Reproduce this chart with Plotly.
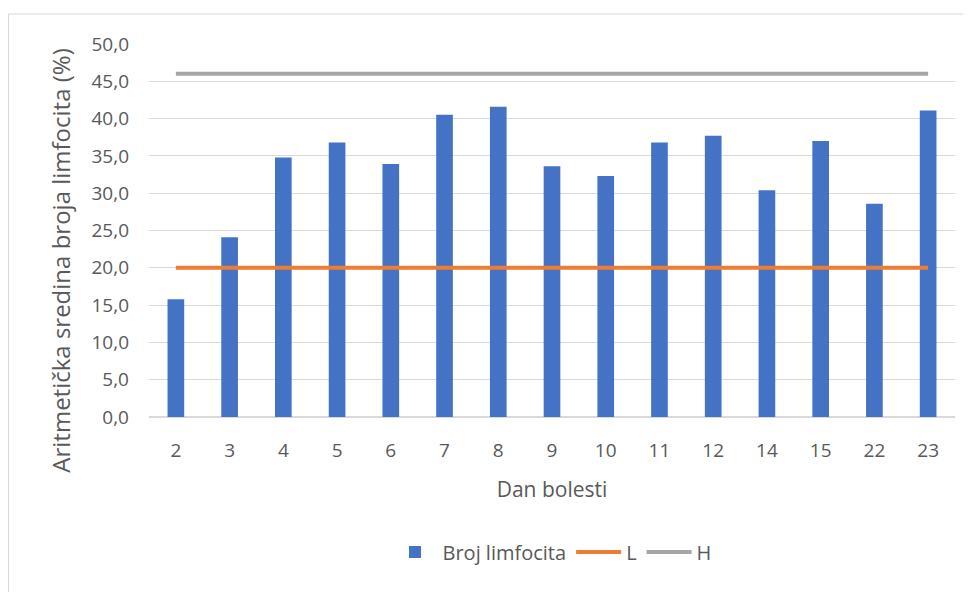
import plotly.graph_objects as go

days = ["2", "3", "4", "5", "6", "7", "8", "9", "10", "11", "12", "14", "15", "22", "23"]
limfociti = [15.8, 24.1, 34.8, 36.8, 33.9, 40.5, 41.6, 33.6, 32.3, 36.8, 37.7, 30.4, 37.0, 28.6, 41.1]
low_ref = [20.0] * len(days)
high_ref = [46.0] * len(days)

fig = go.Figure()
fig.add_trace(go.Bar(x=days, y=limfociti, name="Broj limfocita",
                     marker=dict(color="#4472C4", line=dict(width=0))))
fig.add_trace(go.Scatter(x=days, y=low_ref, name="L", mode="lines",
                         line=dict(color="#ED7D31", width=4)))
fig.add_trace(go.Scatter(x=days, y=high_ref, name="H", mode="lines",
                         line=dict(color="#A5A5A5", width=4)))

fig.update_layout(
    width=963, height=584,
    margin=dict(l=141, r=16, t=36, b=175),
    paper_bgcolor="white", plot_bgcolor="white",
    separators=", ",
    bargap=0.69,
    font=dict(family="Open Sans, Noto Sans, sans-serif", color="#595959", size=15),
    xaxis=dict(type="category", showgrid=False, showline=False, ticks="",
               ticklabelstandoff=20,
               tickfont=dict(size=19, color="#595959"),
               title=dict(text="Dan bolesti", font=dict(size=21, color="#595959"), standoff=20)),
    yaxis=dict(range=[0, 50], dtick=5, tickformat=".1f", showgrid=True,
               gridcolor="#D9D9D9", gridwidth=1, zeroline=True, zerolinecolor="#D9D9D9",
               showline=False, ticks="", ticklabelstandoff=19,
               tickfont=dict(size=19, color="#595959")),
    legend=dict(orientation="h", x=0.5, xanchor="center", y=-0.362, yanchor="middle",
                font=dict(size=20, color="#595959"), itemwidth=45, traceorder="normal"),
    annotations=[dict(text="Aritmetička sredina broja limfocita (%)", textangle=-90,
                      xref="paper", yref="paper", x=-0.110, y=0.42,
                      xanchor="center", yanchor="middle", showarrow=False,
                      font=dict(size=24, color="#595959"))],
    shapes=[dict(type="rect", xref="paper", yref="paper",
                 x0=-0.1743, x1=1.03, y0=-0.5, y1=1.0804,
                 line=dict(color="#D9D9D9", width=1), fillcolor="rgba(0,0,0,0)", layer="below")],
)

fig.write_html("out.html")
